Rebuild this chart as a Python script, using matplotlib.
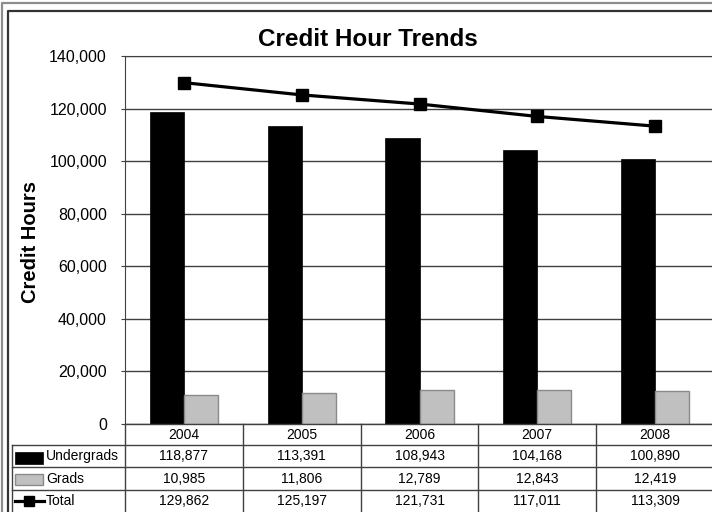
import matplotlib
matplotlib.use("Agg")
import matplotlib.pyplot as plt
import matplotlib.transforms as mtransforms
from matplotlib.lines import Line2D
from matplotlib.patches import Rectangle

plt.rcParams['font.family'] = ['Liberation Sans', 'DejaVu Sans']

years = ["2004", "2005", "2006", "2007", "2008"]
undergrads = [118877, 113391, 108943, 104168, 100890]
grads = [10985, 11806, 12789, 12843, 12419]
total = [129862, 125197, 121731, 117011, 113309]
series_names = ["Undergrads", "Grads", "Total"]
yticks = [0, 20000, 40000, 60000, 80000, 100000, 120000, 140000]

W, H = 712, 512
fig = plt.figure(figsize=(W / 100, H / 100), dpi=100)
fig.patch.set_facecolor("white")

def fx(px):
    return px / W

def fy(py):
    return (H - py) / H

ax = fig.add_axes([fx(125), fy(424), fx(714) - fx(125), fy(56) - fy(424)])
ax.set_facecolor("white")
x = list(range(len(years)))
bw = 0.29
ax.bar([i - bw / 2 for i in x], undergrads, width=bw, color="black", edgecolor="black", linewidth=0.5, zorder=3)
ax.bar([i + bw / 2 for i in x], grads, width=bw, color="#c0c0c0", edgecolor="#8a8a8a", linewidth=1.0, zorder=3)
ax.plot(x, total, color="black", lw=2.3, marker="s", markersize=8.5, zorder=4, clip_on=False)
ax.set_xlim(-0.5, len(years) - 0.5)
ax.set_ylim(0, 140000)
ax.set_yticks(yticks)
ax.set_yticklabels([f"{v:,}" for v in yticks], fontsize=11.5)
ax.set_xticks([])
ax.yaxis.grid(True, color="#404040", lw=1.0, zorder=0)
for s in ["right", "bottom"]:
    ax.spines[s].set_visible(False)
ax.spines["top"].set_color("#404040")
ax.spines["left"].set_color("#404040")
ax.tick_params(axis="y", length=3, color="#404040", pad=10)

fig.text(fx(368), fy(39), "Credit Hour Trends", fontsize=17.5, fontweight="bold", ha="center", va="center")
fig.text(fx(31), fy(242), "Credit Hours", fontsize=14.5, fontweight="bold", rotation=90, ha="center", va="center")

# table
bt = mtransforms.blended_transform_factory(ax.transData, fig.transFigure)
lc = "#404040"
row_tops = [424, 445, 467, 490]
fig.add_artist(Line2D([fx(125), fx(714)], [fy(424), fy(424)], color=lc, lw=1.0, transform=fig.transFigure))
for py in row_tops[1:]:
    fig.add_artist(Line2D([fx(12), fx(714)], [fy(py), fy(py)], color=lc, lw=1.0, transform=fig.transFigure))
fig.add_artist(Line2D([fx(12), fx(12)], [fy(445), fy(520)], color=lc, lw=1.0, transform=fig.transFigure))
for i in range(len(years)):
    fig.add_artist(Line2D([i - 0.5, i - 0.5], [fy(424), fy(520)], color=lc, lw=1.0, transform=bt))
    fig.text(i, fy(435), years[i], transform=bt, fontsize=10, ha="center", va="center")
rows = [undergrads, grads, total]
row_centers = [456, 479, 501]
for r, vals in enumerate(rows):
    for i, v in enumerate(vals):
        fig.text(i, fy(row_centers[r]), f"{v:,}", transform=bt, fontsize=10, ha="center", va="center")
    fig.text(fx(46), fy(row_centers[r]), series_names[r], fontsize=10, ha="left", va="center")

# legend keys
fig.add_artist(Rectangle((fx(15), fy(464)), fx(43) - fx(15), fy(452) - fy(464), facecolor="black", edgecolor="black", lw=0.5, transform=fig.transFigure))
fig.add_artist(Rectangle((fx(15), fy(485)), fx(43) - fx(15), fy(474) - fy(485), facecolor="#c0c0c0", edgecolor="#8a8a8a", lw=1.0, transform=fig.transFigure))
fig.add_artist(Line2D([fx(15), fx(44)], [fy(501), fy(501)], color="black", lw=2.3, transform=fig.transFigure))
fig.add_artist(Line2D([fx(29.5)], [fy(501)], color="black", marker="s", markersize=7, transform=fig.transFigure))

# outer frame
fig.add_artist(Line2D([fx(2), fx(2), fx(714)], [fy(520), fy(2.5), fy(2.5)], color="#8c8c8c", lw=1.6, transform=fig.transFigure))
fig.add_artist(Line2D([fx(7.5), fx(7.5), fx(714)], [fy(520), fy(11), fy(11)], color="#333333", lw=1.6, transform=fig.transFigure))

fig.savefig("out.png", dpi=100, facecolor="white")
